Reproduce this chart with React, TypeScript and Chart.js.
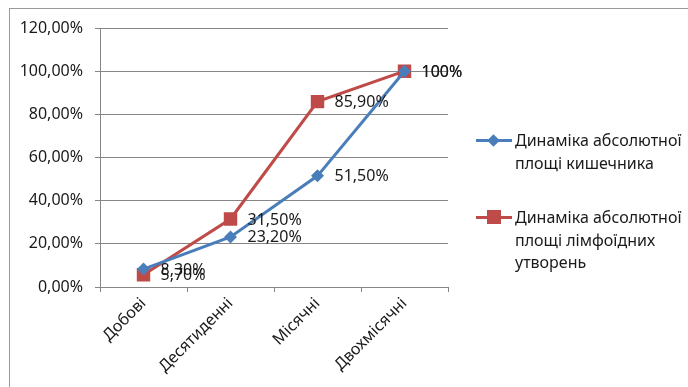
import React, { useEffect, useRef } from "react";
import { Chart, registerables } from "chart.js";

Chart.register(...registerables);

const categories = ["Добові", "Десятиденні", "Місячні", "Двохмісячні"];
const seriesNames = [
  "Динаміка абсолютної площі кишечника",
  "Динаміка абсолютної площі лімфоїдних утворень",
];
const intestineValues = [8.3, 23.2, 51.5, 100];
const lymphValues = [5.7, 31.5, 85.9, 100];
const intestineLabels = ["8,30%", "23,20%", "51,50%", "100%"];
const lymphLabels = ["5,70%", "31,50%", "85,90%", "100%"];
const yTicks = [0, 20, 40, 60, 80, 100, 120];

const BLUE = "#4A7EBB";
const RED = "#BE4B48";
const FONT = "'Noto Sans', sans-serif";
const TEXT = "#1a1a1a";

const labelPlugin = {
  id: "pointLabels",
  afterDatasetsDraw(chart: any) {
    const ctx = chart.ctx;
    const sets = [intestineLabels, lymphLabels];
    ctx.save();
    ctx.font = "16px " + FONT;
    ctx.fillStyle = TEXT;
    ctx.textAlign = "left";
    ctx.textBaseline = "middle";
    chart.data.datasets.forEach((ds: any, di: number) => {
      const meta = chart.getDatasetMeta(di);
      meta.data.forEach((pt: any, i: number) => {
        ctx.fillText(sets[di][i], pt.x + 17, pt.y + 1);
      });
    });
    ctx.restore();
  },
};

function LegendItem({ color, shape, lines, top }: any) {
  return (
    <div style={{ position: "absolute", left: 476, top, display: "flex" }}>
      <div style={{ position: "relative", width: 36, height: 22 }}>
        <div style={{ position: "absolute", left: 0, top: 10, width: 36, height: 3, background: color }} />
        {shape === "diamond" ? (
          <div style={{ position: "absolute", left: 13, top: 7, width: 9, height: 9, background: color, transform: "rotate(45deg)" }} />
        ) : (
          <div style={{ position: "absolute", left: 11, top: 4, width: 14, height: 14, background: color }} />
        )}
      </div>
      <div style={{ marginLeft: 3, font: "16px " + FONT, lineHeight: "22.5px", color: TEXT, whiteSpace: "nowrap" }}>
        {lines.map((l: string, i: number) => (
          <div key={i}>{l}</div>
        ))}
      </div>
    </div>
  );
}

export default function App() {
  const ref = useRef<HTMLCanvasElement>(null);
  useEffect(() => {
    const chart = new Chart(ref.current!, {
      type: "line",
      data: {
        labels: categories,
        datasets: [
          {
            label: seriesNames[0],
            data: intestineValues,
            borderColor: BLUE,
            backgroundColor: BLUE,
            borderWidth: 3,
            pointStyle: "rectRot",
            pointRadius: 6.5,
            pointBorderWidth: 0,
            tension: 0,
          },
          {
            label: seriesNames[1],
            data: lymphValues,
            borderColor: RED,
            backgroundColor: RED,
            borderWidth: 3,
            pointStyle: "rect",
            pointRadius: 9.5,
            pointBorderWidth: 0,
            tension: 0,
          },
        ],
      },
      options: {
        responsive: false,
        animation: false,
        layout: { padding: { top: 28, right: 240, left: 0, bottom: 0 } },
        plugins: { legend: { display: false }, tooltip: { enabled: false } },
        scales: {
          x: {
            offset: true,
            grid: { offset: true, drawOnChartArea: false, tickLength: 5, color: "#868686" },
            border: { color: "#868686" },
            ticks: {
              minRotation: 45,
              maxRotation: 45,
              padding: 2,
              color: TEXT,
              font: { family: FONT, size: 16 },
            },
            afterFit(scale: any) {
              scale.height = 100;
            },
          },
          y: {
            min: 0,
            max: 120,
            afterBuildTicks(scale: any) {
              scale.ticks = yTicks.map((v) => ({ value: v }));
            },
            grid: { tickLength: 5, color: "#868686" },
            border: { color: "#868686" },
            ticks: {
              padding: 12,
              color: TEXT,
              font: { family: FONT, size: 16 },
              callback: (v: any) => Number(v).toFixed(2).replace(".", ",") + "%",
            },
            afterFit(scale: any) {
              scale.width = 100;
            },
          },
        },
      },
      plugins: [labelPlugin],
    });
    return () => chart.destroy();
  }, []);
  return (
    <div style={{ position: "fixed", left: 0, top: 0, width: 688, height: 387, overflow: "hidden", background: "#fff" }}>
      <div style={{ position: "absolute", left: 9, top: 8, width: 760, height: 440, border: "1px solid #9a9a9a" }} />
      <canvas ref={ref} width={688} height={387} style={{ position: "absolute", left: 0, top: 0 }} />
      <LegendItem color={BLUE} shape="diamond" lines={["Динаміка абсолютної", "площі кишечника"]} top={129} />
      <LegendItem color={RED} shape="rect" lines={["Динаміка абсолютної", "площі лімфоїдних", "утворень"]} top={206} />
    </div>
  );
}
